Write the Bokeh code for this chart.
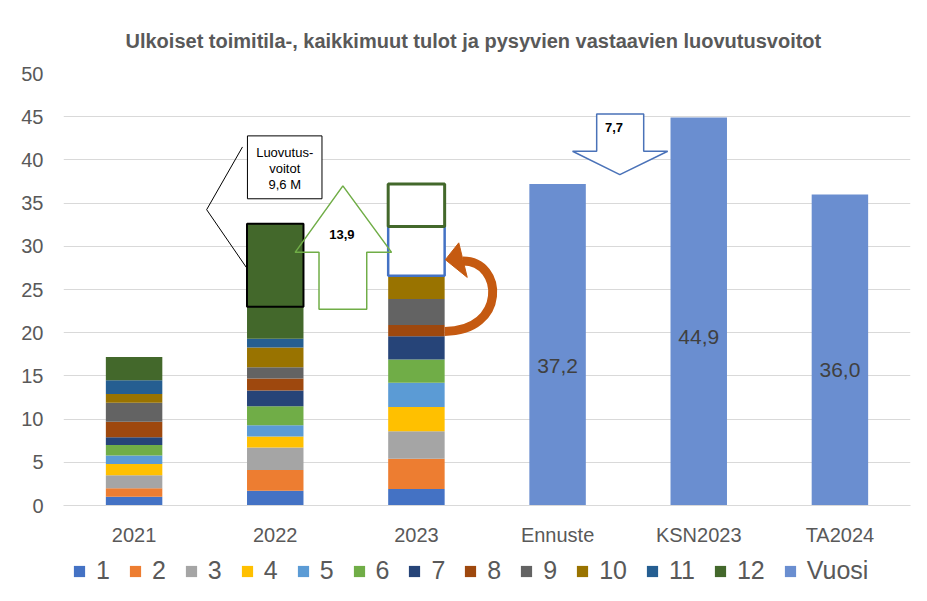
from bokeh.plotting import figure
from bokeh.layouts import column
from bokeh.models import (ColumnDataSource, Range1d, FixedTicker, Legend, LegendItem, Rect)
from bokeh.embed import file_html
from bokeh.resources import INLINE

# ---------------- data ----------------
categories = ["2021", "2022", "2023", "Ennuste", "KSN2023", "TA2024"]
series_names = ["1", "2", "3", "4", "5", "6", "7", "8", "9", "10", "11", "12"]
series_colors = ["#4472C4", "#ED7D31", "#A5A5A5", "#FFC000", "#5B9BD5", "#70AD47",
                 "#264478", "#9E480E", "#636363", "#997300", "#255E91", "#43682B"]
v2021 = [1.0, 1.0, 1.5, 1.3, 1.0, 1.2, 0.9, 1.8, 2.2, 1.0, 1.6, 2.7]
v2022 = [1.7, 2.4, 2.6, 1.3, 1.3, 2.2, 1.8, 1.4, 1.3, 2.3, 1.0, 13.3]
v2023 = [1.9, 3.5, 3.2, 2.8, 2.8, 2.7, 2.7, 1.3, 3.0, 2.7, 0.0, 0.0]
gains_2022 = 9.6            # luovutusvoitot inside the 2022 bar
est_rest_2023 = 5.7         # blue outlined estimate box
est_gains_2023 = 4.9        # green outlined estimate box
vuosi_cats = ["Ennuste", "KSN2023", "TA2024"]
vuosi_values = [37.2, 44.9, 36.0]
vuosi_labels = ["37,2", "44,9", "36,0"]
vuosi_name = "Vuosi"
arrow_up_label = "13,9"
arrow_down_label = "7,7"
callout_lines = ["Luovutus-", "voitot", "9,6 M"]
title_text = "Ulkoiset toimitila-, kaikkimuut tulot ja pysyvien vastaavien luovutusvoitot"
y_ticks = [0, 5, 10, 15, 20, 25, 30, 35, 40, 45, 50]

FONT = "Liberation Sans"
GREY = "#595959"
VUOSI_COLOR = "#6A8ED0"
BAR_W = 0.4

xpos = {c: i for i, c in enumerate(categories)}

p = figure(width=911, height=556, output_backend="svg", toolbar_location=None,
           x_range=Range1d(-0.5, 5.5), y_range=Range1d(0, 50),
           min_border_left=63, min_border_right=1, min_border_top=73, min_border_bottom=51)
p.outline_line_color = None
p.xgrid.grid_line_color = None
p.ygrid.grid_line_color = "#d9d9d9"
p.ygrid.ticker = FixedTicker(ticks=y_ticks)

p.title.text = title_text
p.title.align = "left"
p.title.offset = 62
p.title.standoff = 43
p.title.text_font = FONT
p.title.text_font_style = "bold"
p.title.text_font_size = "20px"
p.title.text_color = GREY

# ---------------- stacked bars ----------------
stack_data = {"x": [xpos["2021"], xpos["2022"], xpos["2023"]]}
for i, n in enumerate(series_names):
    stack_data["s" + n] = [v2021[i], v2022[i], v2023[i]]
src = ColumnDataSource(stack_data)

tot2022 = sum(v2022)
tot2023 = sum(v2023)
up_x = [1.479, 1.824, 1.648, 1.648, 1.310, 1.310, 1.141]
up_y = [37.0, 29.3, 29.3, 22.7, 22.7, 29.3, 29.3]
p.patch(up_x, up_y, fill_color="white", line_color=None)

p.vbar_stack(["s" + n for n in series_names], x="x", width=BAR_W,
             color=series_colors, line_color=None, source=src)

vsrc = ColumnDataSource(dict(x=[xpos[c] for c in vuosi_cats], top=vuosi_values,
                             lab=vuosi_labels, ylab=[v * 0.435 for v in vuosi_values]))
p.vbar(x="x", top="top", width=BAR_W, color=VUOSI_COLOR, line_color=None, source=vsrc)
p.text(x="x", y="ylab", text="lab", source=vsrc, text_align="center", text_baseline="middle",
       text_font={"value": FONT}, text_font_size="21px", text_color="#404040")

p.vbar(x=[xpos["2022"]], bottom=[tot2022 - gains_2022], top=[tot2022], width=BAR_W,
       fill_color=None, line_color="black", line_width=2)
p.vbar(x=[xpos["2023"]], bottom=[tot2023], top=[tot2023 + est_rest_2023], width=BAR_W,
       fill_color="white", line_color="#4472C4", line_width=2.5)
p.vbar(x=[xpos["2023"]], bottom=[tot2023 + est_rest_2023],
       top=[tot2023 + est_rest_2023 + est_gains_2023], width=BAR_W,
       fill_color="white", line_color="#43682B", line_width=3)

p.patch(up_x, up_y, fill_color=None, line_color="#70AD47", line_width=1.5)
p.text(x=[1.472], y=[31.35], text=[arrow_up_label], text_align="center", text_baseline="middle",
       text_font={"value": FONT}, text_font_style="bold", text_font_size="13px", text_color="black")

dn_x = [3.277, 3.610, 3.610, 3.780, 3.441, 3.106, 3.277]
dn_y = [45.3, 45.3, 41.0, 41.0, 38.3, 41.0, 41.0]
p.patch(dn_x, dn_y, fill_color="white", line_color="#4A72B8", line_width=1.5)
p.text(x=[3.40], y=[43.7], text=[arrow_down_label], text_align="center", text_baseline="middle",
       text_font={"value": FONT}, text_font_style="bold", text_font_size="13px", text_color="black")

p.bezier(x0=[2.20], y0=[20.15], x1=[2.33], y1=[28.3], cx0=[2.64], cy0=[20.15],
         cx1=[2.62], cy1=[28.3], line_color="#C55A11", line_width=9)
p.patch([2.205, 2.30, 2.36], [28.45, 30.4, 26.4], fill_color="#C55A11", line_color="#C55A11")

p.line([0.768, 0.514, 0.796], [41.5, 34.24, 27.54], line_color="black", line_width=1)
p.add_glyph(Rect(x=1.067, y=39.14, width=0.528, height=7.28, fill_color="white",
                 line_color="black", line_width=1))
p.text(x=[1.067, 1.067, 1.067], y=[40.9, 39.0, 37.1], text=callout_lines, text_align="center",
       text_baseline="middle", text_font={"value": FONT}, text_font_size="13px",
       text_color="black")

# ---------------- axes ----------------
p.xaxis.ticker = FixedTicker(ticks=list(range(len(categories))))
p.xaxis.major_label_overrides = {i: c for i, c in enumerate(categories)}
p.xaxis.axis_line_color = "#d9d9d9"
p.xaxis.major_tick_line_color = None
p.xaxis.minor_tick_line_color = None
p.xaxis.major_label_text_font = FONT
p.xaxis.major_label_text_font_size = "20px"
p.xaxis.major_label_text_color = GREY
p.xaxis.major_label_standoff = 12

p.yaxis.ticker = FixedTicker(ticks=y_ticks)
p.yaxis.axis_line_color = None
p.yaxis.major_tick_line_color = None
p.yaxis.minor_tick_line_color = None
p.yaxis.major_label_text_font = FONT
p.yaxis.major_label_text_font_size = "20px"
p.yaxis.major_label_text_color = GREY
p.yaxis.major_label_standoff = 14

# ---------------- legend (own strip below the chart) ----------------
pl = figure(width=911, height=29, output_backend="svg", toolbar_location=None,
            x_range=Range1d(0, 1), y_range=Range1d(0, 1),
            x_axis_location=None, y_axis_location=None,
            min_border_left=0, min_border_right=0, min_border_top=0, min_border_bottom=0)
pl.grid.visible = False
pl.outline_line_color = None
legend_names = series_names + [vuosi_name]
legend_colors = series_colors + [VUOSI_COLOR]
items = []
for name, col in zip(legend_names, legend_colors):
    # swatch-only renderer placed outside the strip's visible range
    r = pl.vbar(x=[5], top=[0], width=0.1, fill_color=col, line_color=None)
    items.append(LegendItem(label=name, renderers=[r]))
legend = Legend(items=items, orientation="horizontal", location=(9, 0),
                label_text_font=FONT, label_text_font_size="25px", label_text_color=GREY,
                glyph_width=14, glyph_height=14, label_standoff=10, spacing=18,
                label_width=0, label_height=27, border_line_color=None,
                background_fill_alpha=0, padding=0, margin=0)
pl.add_layout(legend, "center")

layout = column(p, pl, spacing=0)
open("out.html", "w").write(file_html(layout, INLINE))
